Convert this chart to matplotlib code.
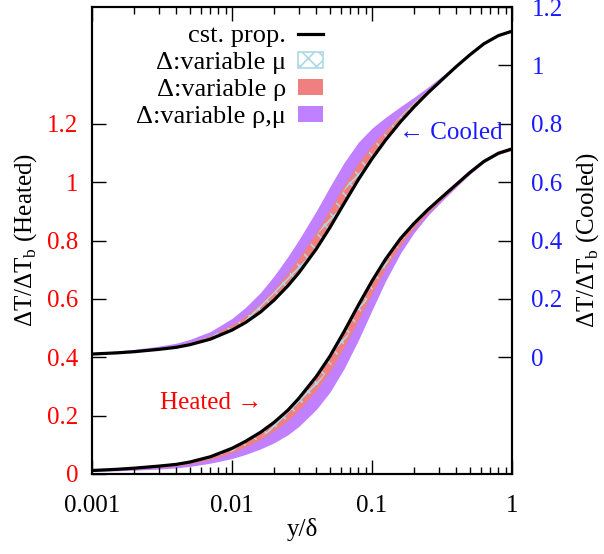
import matplotlib
matplotlib.use('Agg')
import matplotlib.pyplot as plt
from matplotlib.patches import Patch
from matplotlib.lines import Line2D

plt.rcParams['font.family'] = ['Liberation Serif', 'DejaVu Serif']
plt.rcParams['mathtext.fontset'] = 'custom'
plt.rcParams['mathtext.rm'] = 'Liberation Serif'
plt.rcParams['hatch.linewidth'] = 1.2

# y/delta sample points
yd = [0.001, 0.0015, 0.002, 0.003, 0.004, 0.005, 0.007, 0.01, 0.0125, 0.016,
      0.02, 0.025, 0.03, 0.04, 0.05, 0.063, 0.08, 0.1, 0.125, 0.16,
      0.2, 0.25, 0.32, 0.4, 0.5, 0.63, 0.8, 1.0]

# heated case (left axis)
heat_cst = [0.012, 0.016, 0.020, 0.027, 0.033, 0.041, 0.059, 0.088, 0.112, 0.143,
            0.177, 0.218, 0.259, 0.334, 0.403, 0.487, 0.579, 0.661, 0.736, 0.807,
            0.859, 0.905, 0.951, 0.992, 1.033, 1.071, 1.099, 1.114]
heat_mu = [0.011, 0.015, 0.018, 0.024, 0.029, 0.037, 0.052, 0.077, 0.098, 0.125,
           0.155, 0.192, 0.229, 0.299, 0.365, 0.447, 0.542, 0.630, 0.712, 0.791,
           0.848, 0.898, 0.946, 0.988, 1.030, 1.068, 1.096, 1.110]
heat_rho = [0.010, 0.014, 0.017, 0.023, 0.028, 0.035, 0.050, 0.073, 0.093, 0.119,
            0.148, 0.183, 0.219, 0.287, 0.352, 0.434, 0.529, 0.619, 0.704, 0.785,
            0.844, 0.895, 0.944, 0.987, 1.029, 1.067, 1.095, 1.109]
heat_rhomu = [0.009, 0.011, 0.013, 0.017, 0.021, 0.026, 0.037, 0.053, 0.067, 0.086,
              0.107, 0.134, 0.163, 0.221, 0.280, 0.360, 0.459, 0.561, 0.661, 0.757,
              0.827, 0.885, 0.938, 0.983, 1.027, 1.067, 1.096, 1.112]

# cooled case (right axis)
cool_cst = [0.011, 0.015, 0.019, 0.027, 0.034, 0.043, 0.062, 0.093, 0.119, 0.155,
            0.196, 0.244, 0.289, 0.371, 0.444, 0.526, 0.609, 0.680, 0.744, 0.807,
            0.858, 0.905, 0.953, 0.996, 1.036, 1.074, 1.102, 1.117]
cool_mu = [0.013, 0.017, 0.022, 0.031, 0.039, 0.049, 0.071, 0.107, 0.136, 0.178,
           0.224, 0.278, 0.327, 0.415, 0.491, 0.573, 0.653, 0.715, 0.770, 0.826,
           0.872, 0.914, 0.959, 1.001, 1.040, 1.078, 1.106, 1.122]
cool_rho = [0.013, 0.018, 0.023, 0.032, 0.040, 0.051, 0.074, 0.111, 0.142, 0.185,
            0.233, 0.289, 0.340, 0.429, 0.507, 0.589, 0.667, 0.727, 0.779, 0.832,
            0.876, 0.917, 0.961, 1.002, 1.041, 1.079, 1.107, 1.123]
cool_rhomu = [0.015, 0.021, 0.027, 0.038, 0.048, 0.061, 0.088, 0.133, 0.171, 0.222,
              0.279, 0.344, 0.402, 0.501, 0.584, 0.666, 0.737, 0.785, 0.822, 0.859,
              0.891, 0.925, 0.965, 1.003, 1.040, 1.077, 1.104, 1.119]

ticks = [0, 0.2, 0.4, 0.6, 0.8, 1, 1.2]
tick_labels = ['0', '0.2', '0.4', '0.6', '0.8', '1', '1.2']

c_rhomu = '#c080ff'
c_rho = '#f08080'
c_mu = '#add8e6'
blue = '#1a1aff'
fs = 18

fig = plt.figure(figsize=(6.04, 5.54), dpi=100)
ax = fig.add_axes([92/604, 80/554, 420/604, 467/554])
ax2 = ax.twinx()

# heated bands + line
ax.fill_between(yd, heat_cst, heat_rhomu, color=c_rhomu, lw=0)
ax.fill_between(yd, heat_cst, heat_rho, color=c_rho, lw=0)
ax.fill_between(yd, heat_cst, heat_mu, facecolor='none', edgecolor=c_mu, hatch='xx', lw=0)
ax.plot(yd, heat_cst, color='black', lw=2.3)

# cooled bands + line
ax2.fill_between(yd, cool_cst, cool_rhomu, color=c_rhomu, lw=0)
ax2.fill_between(yd, cool_cst, cool_rho, color=c_rho, lw=0)
ax2.fill_between(yd, cool_cst, cool_mu, facecolor='none', edgecolor=c_mu, hatch='xx', lw=0)
ax2.plot(yd, cool_cst, color='black', lw=2.3)

ax.set_xscale('log')
ax.set_xlim(0.001, 1)
ax.set_ylim(0, 1.6)
ax2.set_ylim(-0.4, 1.2)
ax.set_xticks([0.001, 0.01, 0.1, 1])
ax.set_xticklabels(['0.001', '0.01', '0.1', '1'])
ax.set_yticks(ticks)
ax.set_yticklabels(tick_labels, color='red')
ax2.set_yticks(ticks)
ax2.set_yticklabels(tick_labels, color=blue)

ax.tick_params(axis='x', which='major', direction='in', top=True, length=10, width=1, labelsize=fs, pad=15)
ax.tick_params(axis='x', which='minor', direction='in', top=True, length=5, width=1)
ax.tick_params(axis='y', direction='in', length=10, width=1, labelsize=fs, pad=10)
ax2.tick_params(axis='y', direction='in', length=10, width=1, labelsize=fs, pad=14)
for a in (ax, ax2):
    for s in a.spines.values():
        s.set_linewidth(1.5)

ax.set_xlabel('y/δ', fontsize=fs, labelpad=1)
ax.set_ylabel(r'ΔT/ΔT$_\mathrm{b}$ (Heated)', fontsize=fs, labelpad=6)
ax2.set_ylabel(r'ΔT/ΔT$_\mathrm{b}$ (Cooled)', fontsize=fs, rotation=90, labelpad=8)

ax.text(0.0071, 0.243, 'Heated →', color='red', fontsize=fs, ha='center', va='center')
ax2.text(0.367, 0.77, '← Cooled', color=blue, fontsize=fs, ha='center', va='center')

handles = [Line2D([], [], color='black', lw=2.3),
           Patch(facecolor='none', edgecolor=c_mu, hatch='xx', lw=1.2),
           Patch(facecolor=c_rho, edgecolor='none'),
           Patch(facecolor=c_rhomu, edgecolor='none')]
labels = ['cst. prop.', 'Δ:variable μ', 'Δ:variable ρ', 'Δ:variable ρ,μ']
ax2.legend(handles, labels, loc='upper right', bbox_to_anchor=(323/604, 529/554),
           bbox_transform=fig.transFigure, frameon=False, markerfirst=False,
           fontsize=19, handlelength=0.95, handleheight=0.55, handletextpad=0.45,
           labelspacing=0.18, borderpad=0.0, borderaxespad=0.0)

fig.savefig('out.png', dpi=100)
